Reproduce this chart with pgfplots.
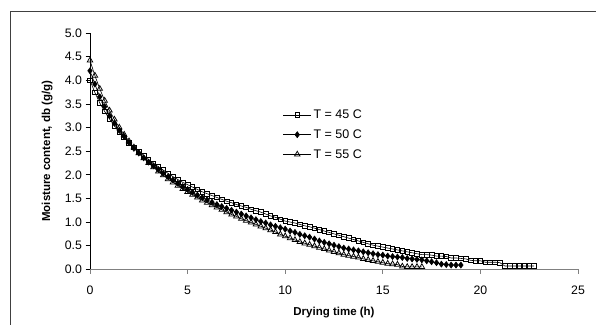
\documentclass[border=0pt]{standalone}
\usepackage{pgfplots}
\pgfplotsset{compat=1.18}
\usepackage{fontspec}
\setmainfont{Liberation Sans}
\begin{document}
\begin{tikzpicture}
\useasboundingbox (0pt,0pt) rectangle (596pt,324pt);
\draw[line width=1.8pt,color=black!75] (10.5pt,-2pt) -- (10.5pt,312.5pt) -- (600pt,312.5pt);
\begin{axis}[
  at={(90pt,54.7pt)}, anchor=origin,
  scale only axis, width=488pt, height=236.3pt,
  xmin=0, xmax=25, ymin=0, ymax=5,
  axis x line=bottom, axis y line=left,
  x axis line style={-, draw=black!50, line width=0.9pt},
  y axis line style={-, draw=black, line width=0.7pt},
  xtick={0,5,10,15,20,25},
  ytick={0,0.5,1,1.5,2,2.5,3,3.5,4,4.5,5},
  tick align=outside,
  major tick length=4.5pt,
  xtick style={draw=black!50, line width=0.9pt},
  ytick style={draw=black, line width=0.7pt},
  /pgf/number format/assume math mode=true,
  yticklabel style={/pgf/number format/.cd, fixed, fixed zerofill, precision=1},
  ticklabel style={font=\fontsize{12.3}{14}\selectfont},
  xticklabel style={yshift=-9pt},
  xlabel={Drying time (h)},
  ylabel={Moisture content, db (g/g)},
  every axis x label/.style={at={(axis description cs:0.5,-0.181)}, anchor=center, font=\bfseries\fontsize{11.5}{13}\selectfont},
  every axis y label/.style={at={(axis description cs:-0.088,0.5)}, anchor=center, rotate=90, font=\bfseries\fontsize{11.5}{13}\selectfont},
  clip=false,
  legend style={draw=none, fill=none, at={(axis description cs:0.395,0.684)}, anchor=north west,
    font=\fontsize{12.5}{14}\selectfont, row sep=5.5pt, inner sep=0pt},
  legend cell align=left,
  legend image code/.code={\draw[mark repeat=2,mark phase=2] plot coordinates {(0pt,0pt) (14pt,0pt) (28pt,0pt)};},
]
\addplot[black, line width=0.6pt, mark=square, mark size=2.3pt, mark options={fill=white, line width=0.75pt}] coordinates {
(0,4.00)(0.25,3.74)(0.5,3.52)(0.75,3.34)(1,3.18)(1.25,3.04)(1.5,2.91)(1.75,2.79)(2,2.68)(2.25,2.58)
(2.5,2.49)(2.75,2.40)(3,2.32)(3.25,2.24)(3.5,2.17)(3.75,2.10)(4,2.03)(4.25,1.96)(4.5,1.90)(4.75,1.84)
(5,1.79)(5.25,1.74)(5.5,1.69)(5.75,1.64)(6,1.60)(6.25,1.56)(6.5,1.52)(6.75,1.48)(7,1.44)(7.25,1.41)
(7.5,1.37)(7.75,1.34)(8,1.31)(8.25,1.27)(8.5,1.24)(8.75,1.21)(9,1.17)(9.25,1.13)(9.5,1.10)(9.75,1.06)
(10,1.02)(10.25,1.00)(10.5,0.98)(10.75,0.95)(11,0.92)(11.25,0.90)(11.5,0.87)(11.75,0.84)(12,0.81)(12.25,0.78)
(12.5,0.75)(12.75,0.72)(13,0.69)(13.25,0.66)(13.5,0.63)(13.75,0.60)(14,0.57)(14.25,0.54)(14.5,0.51)(14.75,0.49)
(15,0.47)(15.25,0.45)(15.5,0.43)(15.75,0.41)(16,0.39)(16.25,0.37)(16.5,0.35)(16.75,0.33)(17,0.31)(17.25,0.31)
(17.5,0.30)(17.75,0.28)(18,0.28)(18.25,0.27)(18.5,0.24)(18.75,0.24)(19,0.23)(19.25,0.22)(19.5,0.19)(19.75,0.18)
(20,0.18)(20.25,0.15)(20.5,0.15)(20.75,0.15)(21,0.14)(21.25,0.07)(21.5,0.07)(21.75,0.07)(22,0.07)(22.25,0.07)
(22.5,0.07)(22.75,0.07)
};
\addlegendentry{T = 45 C}
\addplot[black, line width=0.6pt, mark=diamond*, mark size=3pt, mark options={fill=black}] coordinates {
(0,4.20)(0.25,3.92)(0.5,3.65)(0.75,3.44)(1,3.25)(1.25,3.09)(1.5,2.94)(1.75,2.81)(2,2.68)(2.25,2.56)
(2.5,2.46)(2.75,2.36)(3,2.27)(3.25,2.19)(3.5,2.11)(3.75,2.03)(4,1.96)(4.25,1.89)(4.5,1.82)(4.75,1.75)
(5,1.69)(5.25,1.63)(5.5,1.57)(5.75,1.52)(6,1.47)(6.25,1.42)(6.5,1.37)(6.75,1.33)(7,1.29)(7.25,1.25)
(7.5,1.21)(7.75,1.17)(8,1.13)(8.25,1.09)(8.5,1.05)(8.75,1.01)(9,0.98)(9.25,0.94)(9.5,0.91)(9.75,0.88)
(10,0.85)(10.25,0.81)(10.5,0.78)(10.75,0.74)(11,0.71)(11.25,0.68)(11.5,0.64)(11.75,0.60)(12,0.57)(12.25,0.54)
(12.5,0.51)(12.75,0.48)(13,0.45)(13.25,0.43)(13.5,0.41)(13.75,0.39)(14,0.37)(14.25,0.35)(14.5,0.33)(14.75,0.31)
(15,0.30)(15.25,0.28)(15.5,0.27)(15.75,0.26)(16,0.25)(16.25,0.23)(16.5,0.22)(16.75,0.21)(17,0.20)(17.25,0.18)
(17.5,0.16)(17.75,0.14)(18,0.11)(18.25,0.10)(18.5,0.09)(18.75,0.09)(19,0.09)
};
\addlegendentry{T = 50 C}
\addplot[black, line width=0.6pt, mark=triangle, mark size=3.2pt, mark options={fill=white, line width=0.75pt}] coordinates {
(0,4.42)(0.25,4.10)(0.5,3.82)(0.75,3.57)(1,3.36)(1.25,3.17)(1.5,3.00)(1.75,2.85)(2,2.71)(2.25,2.58)
(2.5,2.46)(2.75,2.35)(3,2.25)(3.25,2.16)(3.5,2.07)(3.75,1.99)(4,1.91)(4.25,1.84)(4.5,1.77)(4.75,1.70)
(5,1.64)(5.25,1.58)(5.5,1.52)(5.75,1.46)(6,1.41)(6.25,1.36)(6.5,1.31)(6.75,1.26)(7,1.21)(7.25,1.16)
(7.5,1.12)(7.75,1.07)(8,1.03)(8.25,0.99)(8.5,0.95)(8.75,0.91)(9,0.87)(9.25,0.83)(9.5,0.79)(9.75,0.74)
(10,0.70)(10.25,0.66)(10.5,0.62)(10.75,0.58)(11,0.55)(11.25,0.52)(11.5,0.49)(11.75,0.46)(12,0.43)(12.25,0.40)
(12.5,0.37)(12.75,0.34)(13,0.31)(13.25,0.29)(13.5,0.27)(13.75,0.25)(14,0.22)(14.25,0.20)(14.5,0.18)(14.75,0.16)
(15,0.14)(15.25,0.12)(15.5,0.11)(15.75,0.10)(16,0.06)(16.25,0.05)(16.5,0.05)(16.75,0.05)(17,0.05)
};
\addlegendentry{T = 55 C}
\end{axis}
\end{tikzpicture}
\end{document}
